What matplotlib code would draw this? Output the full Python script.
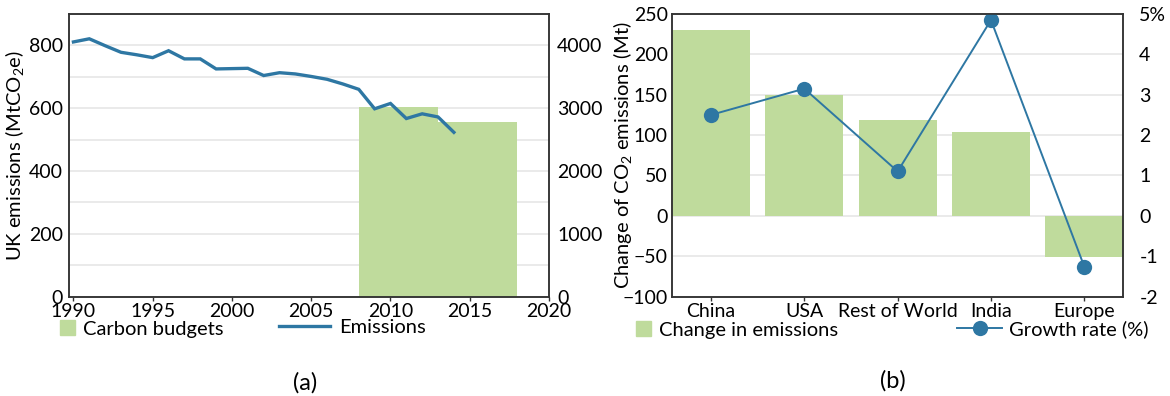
import matplotlib
matplotlib.use("Agg")
import matplotlib.pyplot as plt
from matplotlib.patches import Patch
from matplotlib.lines import Line2D
from matplotlib.ticker import MultipleLocator

plt.rcParams['font.family'] = ['Lato', 'DejaVu Sans']
plt.rcParams['mathtext.fontset'] = 'custom'
plt.rcParams['mathtext.rm'] = 'Lato'
plt.rcParams['mathtext.it'] = 'Lato:italic'
plt.rcParams['font.size'] = 14

# ---- panel (a): UK emissions and carbon budgets ----
years = [1990, 1991, 1992, 1993, 1994, 1995, 1996, 1997, 1998, 1999, 2000,
         2001, 2002, 2003, 2004, 2005, 2006, 2007, 2008, 2009, 2010, 2011,
         2012, 2013, 2014]
uk_emissions = [811, 821, 799, 778, 770, 761, 783, 757, 757, 725, 726,
                727, 704, 713, 709, 701, 692, 677, 660, 598, 615, 567,
                582, 572, 523]
budget_start = [2008, 2013]
budget_length = [5, 5]
budget_total = [3018, 2782]          # MtCO2e over each budget period

# ---- panel (b): change of CO2 emissions by region ----
regions = ['China', 'USA', 'Rest of World', 'India', 'Europe']
change_mt = [230, 150, 119, 104, -51]
growth_pct = [2.5, 3.15, 1.1, 4.85, -1.26]

GREEN = '#bfdb9c'
BLUE = '#2e77a3'
GRID = '#e4e4e4'
SPINE = '#333333'

W, H = 1170, 396
fig = plt.figure(figsize=(W / 100, H / 100), dpi=100)

def frame(left, right, top=14, bottom=296.5):
    return [left / W, 1 - bottom / H, (right - left) / W, (bottom - top) / H]

def style_spines(ax):
    for s in ax.spines.values():
        s.set_color(SPINE)
        s.set_linewidth(1.1)

# panel (a)
ax1 = fig.add_axes(frame(69, 549))
ax1r = ax1.twinx()
ax1.set_zorder(ax1r.get_zorder() + 1)
ax1.patch.set_visible(False)

ax1r.bar(budget_start, budget_total, width=budget_length, align='edge',
         color=GREEN, zorder=2)
ax1r.set_ylim(0, 4500)
ax1r.yaxis.set_minor_locator(MultipleLocator(500))
ax1r.set_yticks([0, 1000, 2000, 3000, 4000])
ax1r.grid(axis='y', which='both', color=GRID, lw=1.1, zorder=0)
ax1r.set_axisbelow(True)
ax1r.tick_params(axis='y', which='both', length=0, pad=5.8, labelsize=14)

ax1.plot(years, uk_emissions, color=BLUE, lw=2.4, solid_joinstyle='miter')
ax1.set_ylim(0, 900)
ax1.set_yticks([0, 200, 400, 600, 800])
ax1.set_xlim(1989.72, 2020)
ax1.set_xticks([1990, 1995, 2000, 2005, 2010, 2015, 2020])
ax1.tick_params(axis='y', length=0, pad=4.3, labelsize=14)
ax1.tick_params(axis='x', length=3, width=1, color=SPINE, pad=1.5, labelsize=14)
ax1.set_ylabel('UK emissions (MtCO$_2$e)', fontsize=14.5)
ax1.yaxis.set_label_coords(-0.09, 0.5)
style_spines(ax1)
style_spines(ax1r)

# panel (b)
ax2 = fig.add_axes(frame(672, 1123.3))
ax2r = ax2.twinx()
x = list(range(len(regions)))
ax2.bar(x, change_mt, width=0.836, color=GREEN, zorder=2)
ax2.set_xlim(-0.418, len(regions) - 1 + 0.418)
ax2.set_ylim(-100, 250)
ax2.set_yticks(list(range(-100, 251, 50)))
ax2.grid(axis='y', color=GRID, lw=1.1, zorder=0)
ax2.set_axisbelow(True)
ax2.set_xticks(x)
ax2.set_xticklabels(regions)
ax2.tick_params(axis='y', length=0, pad=3, labelsize=14)
ax2.tick_params(axis='x', length=3, width=1, color=SPINE, pad=1.5, labelsize=14)
ax2.set_ylabel('Change of CO$_2$ emissions (Mt)', fontsize=14.5)
ax2.yaxis.set_label_coords(-0.084, 0.5)

ax2r.plot(x, growth_pct, color=BLUE, lw=1.4, marker='o', ms=11,
          markeredgewidth=0)
ax2r.set_ylim(-2, 5)
ticks_r = list(range(-2, 6))
ax2r.set_yticks(ticks_r)
ax2r.set_yticklabels([f'{t}%' if t == 5 else str(t) for t in ticks_r])
ax2r.tick_params(axis='y', length=0, pad=11.5, labelsize=14)
style_spines(ax2)
style_spines(ax2r)

# legends
def add_legend(handle, label, xpx, ypx, hl, hh, pad):
    fig.legend(handles=[handle], labels=[label], loc='center left',
               bbox_to_anchor=(xpx / W, 1 - ypx / H),
               bbox_transform=fig.transFigure, frameon=False,
               borderpad=0, borderaxespad=0, handlelength=hl,
               handleheight=hh, handletextpad=pad, numpoints=1,
               fontsize=14.5)

add_legend(Patch(color=GREEN), 'Carbon budgets', 60, 329, 0.75, 0.75, 0.4)
add_legend(Line2D([], [], color=BLUE, lw=2.4), 'Emissions', 279, 327, 2.55, 0.7, 0.44)
add_legend(Patch(color=GREEN), 'Change in emissions', 636, 330, 0.75, 0.75, 0.4)
add_legend(Line2D([], [], color=BLUE, lw=1.4, marker='o', ms=11,
                  markeredgewidth=0),
           'Growth rate (%)', 957, 329, 2.25, 0.7, 0.31)

fig.text(305 / W, 1 - 383 / H, '(a)', ha='center', va='center', fontsize=17)
fig.text(893 / W, 1 - 381 / H, '(b)', ha='center', va='center', fontsize=17)

fig.savefig('out.png', dpi=100, facecolor='white')
